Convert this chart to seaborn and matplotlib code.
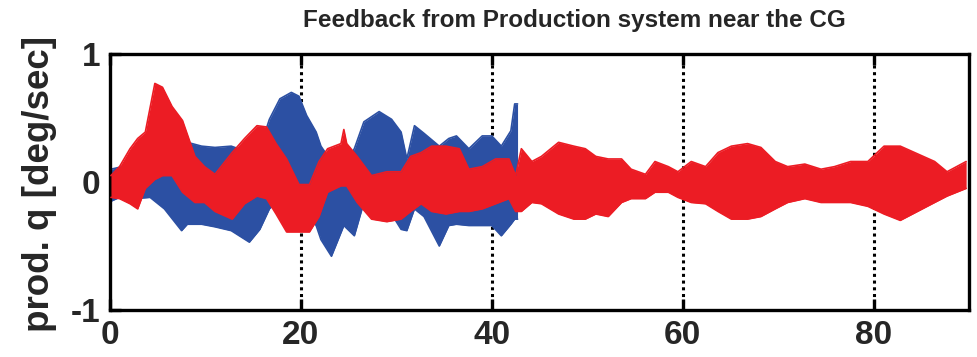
import numpy as np
import pandas as pd
import matplotlib
matplotlib.use("Agg")
import matplotlib.pyplot as plt
import seaborn as sns

# ---- data (envelopes) ----
red_x = [0.1, 1.0, 2.1, 2.9, 3.7, 4.7, 5.5, 6.5, 7.6, 8.9, 9.9, 11.0, 12.8, 14.1, 15.4, 16.4,
         17.4, 18.5, 19.8, 20.9, 21.9, 22.8, 24.2, 24.5, 24.8, 25.9, 27.4, 29.0, 30.5, 31.5, 32.6,
         33.7, 35.2, 36.6, 37.6, 39.0, 40.4, 41.8, 42.5, 43.1, 44.2, 45.2, 47.0, 48.6, 49.8,
         50.9, 52.2, 53.6, 54.6, 56.1, 57.1, 58.5, 59.5, 60.9, 62.4, 63.7, 65.1, 66.8, 68.2,
         69.7, 71.0, 72.8, 74.5, 75.9, 77.6, 79.4, 81.1, 82.8, 84.6, 86.4, 87.7, 89.7]
red_top = [0.05, 0.12, 0.26, 0.34, 0.39, 0.77, 0.74, 0.59, 0.48, 0.20, 0.12, 0.06, 0.23, 0.34, 0.44, 0.43,
           0.30, 0.18, -0.02, -0.02, 0.16, 0.26, 0.30, 0.41, 0.30, 0.20, 0.05, 0.08, 0.08, 0.20, 0.23,
           0.28, 0.28, 0.26, 0.10, 0.12, 0.18, 0.18, 0.05, 0.26, 0.16, 0.20, 0.31, 0.28, 0.26,
           0.20, 0.18, 0.18, 0.10, 0.06, 0.16, 0.12, 0.08, 0.16, 0.12, 0.23, 0.28, 0.30, 0.27,
           0.16, 0.12, 0.14, 0.10, 0.12, 0.16, 0.16, 0.28, 0.28, 0.22, 0.16, 0.08, 0.16]
red_bot = [-0.12, -0.13, -0.17, -0.21, -0.05, 0.02, 0.05, 0.05, -0.08, -0.16, -0.16, -0.23, -0.29, -0.17, -0.11, -0.13,
           -0.25, -0.39, -0.39, -0.39, -0.27, -0.08, -0.03, -0.03, -0.03, -0.16, -0.29, -0.31, -0.29, -0.23, -0.17,
           -0.23, -0.25, -0.23, -0.23, -0.21, -0.17, -0.13, -0.23, -0.23, -0.16, -0.17, -0.25, -0.29, -0.29,
           -0.25, -0.27, -0.16, -0.13, -0.13, -0.08, -0.08, -0.12, -0.16, -0.17, -0.23, -0.29, -0.29, -0.27,
           -0.21, -0.16, -0.13, -0.16, -0.16, -0.16, -0.19, -0.25, -0.30, -0.23, -0.16, -0.11, -0.05]

blue_x = [0.1, 1.3, 2.6, 4.2, 5.7, 7.5, 8.1, 9.6, 11.0, 12.7, 14.6, 15.7, 16.7, 17.8, 19.0, 19.8,
          20.6, 21.6, 22.1, 23.2, 24.5, 25.6, 26.6, 28.2, 29.5, 30.5, 31.1, 31.9, 32.9, 34.5,
          35.5, 36.3, 37.6, 39.0, 40.0, 41.0, 42.0, 42.4, 42.7]
blue_top = [0.10, 0.12, 0.10, 0.18, 0.14, 0.30, 0.31, 0.28, 0.27, 0.28, 0.23, 0.26, 0.49, 0.65, 0.70, 0.67,
            0.52, 0.39, 0.28, 0.16, 0.14, 0.26, 0.47, 0.55, 0.49, 0.39, 0.18, 0.44, 0.38, 0.28,
            0.34, 0.36, 0.26, 0.36, 0.36, 0.28, 0.40, 0.61, 0.61]
blue_bot = [-0.15, -0.11, -0.13, -0.12, -0.21, -0.38, -0.33, -0.33, -0.35, -0.38, -0.47, -0.37, -0.21, -0.13, -0.10, -0.13,
            -0.25, -0.34, -0.45, -0.58, -0.34, -0.42, -0.16, -0.21, -0.25, -0.37, -0.38, -0.21, -0.27, -0.50,
            -0.34, -0.33, -0.34, -0.34, -0.34, -0.42, -0.33, -0.29, -0.29]

x_ticks = [0, 20, 40, 60, 80]
y_ticks = [-1, 0, 1]

BLUE = "#2C50A3"
RED = "#EC1C24"

sns.set_style("white")
plt.rcParams['font.family'] = ['Liberation Sans', 'DejaVu Sans']

fig = plt.figure(figsize=(9.77, 3.57), dpi=100)
ax = fig.add_axes([110/977, 1 - 310/357, (969 - 110)/977, (310 - 54)/357])

def band(xs, top, bot, color, z):
    df = pd.DataFrame({"x": xs + xs, "y": top + bot,
                       "edge": ["top"] * len(xs) + ["bot"] * len(xs)})
    sns.lineplot(data=df, x="x", y="y", units="edge", estimator=None,
                 color=color, lw=1.2, ax=ax, zorder=z, legend=False)
    ax.fill_between(xs, bot, top, color=color, lw=0, zorder=z)

band(blue_x, blue_top, blue_bot, BLUE, 2)
band(red_x, red_top, red_bot, RED, 3)

ax.set_xlim(0, 90)
ax.set_ylim(-1, 1)
ax.set_xticks(x_ticks)
ax.set_yticks(y_ticks)
ax.set_xlabel("")
ax.set_ylabel("")

for xv in x_ticks[1:]:
    ax.axvline(xv, color="black", lw=2.2, ls=(0, (1, 1.2)), zorder=1)

for s in ax.spines.values():
    s.set_visible(True)
    s.set_linewidth(2.4)
    s.set_color("black")

tick_font = dict(family=['Liberation Sans', 'DejaVu Sans'], weight='bold', size=24)
ax.tick_params(axis='both', direction='in', length=8, width=2.4, color='black',
               top=True, bottom=True, left=True, right=False, pad=7)
ax.set_xticklabels([str(v) for v in x_ticks], fontdict=tick_font)
ax.set_yticklabels([str(v) for v in y_ticks], fontdict=tick_font)

fig.text(40/977, 1 - 184/357, "prod. q [deg/sec]", rotation=90, ha='center', va='center',
         family=['Liberation Sans', 'DejaVu Sans'], weight='bold', size=26.5)
fig.text(574/977, 1 - 20/357, "Feedback from Production system near the CG",
         ha='center', va='center', family=['Liberation Sans', 'DejaVu Sans'],
         weight='bold', size=17.5)

fig.savefig("out.png", dpi=100)
